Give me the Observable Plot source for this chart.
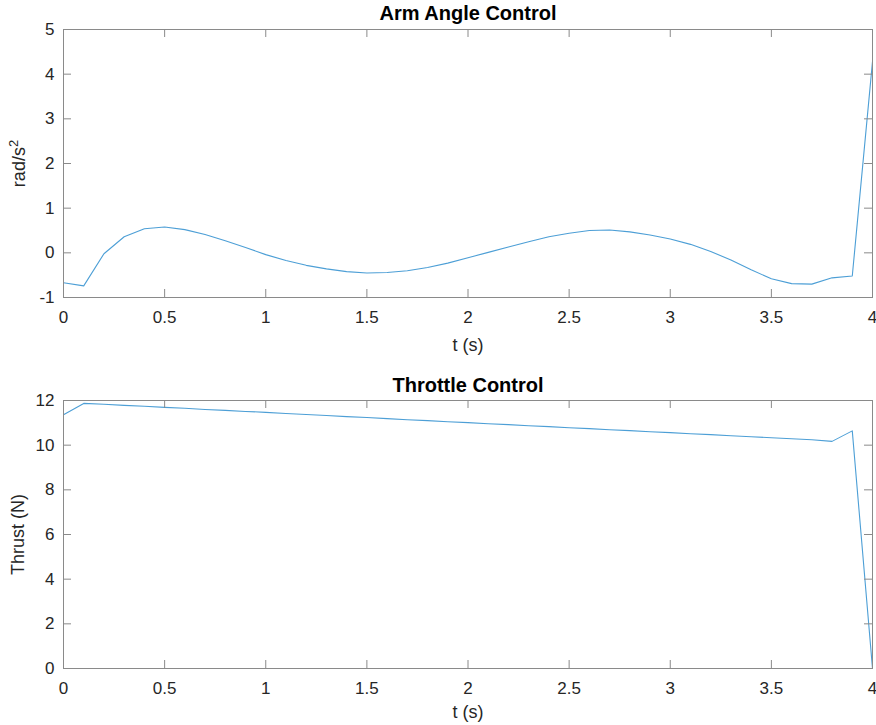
<!DOCTYPE html>
<html><head>
<meta charset="utf-8">
<script src="https://cdn.jsdelivr.net/npm/d3@7"></script>
<script src="https://cdn.jsdelivr.net/npm/@observablehq/plot@0.6"></script>
<style>
body{margin:0;background:#fff;font-family:"Liberation Sans",Arial,sans-serif}
#c svg{display:block}
</style>
</head><body><div id="c"></div>
<script>
const t = [0,0.1,0.2,0.3,0.4,0.5,0.6,0.7,0.8,0.9,1.0,1.1,1.2,1.3,1.4,1.5,1.6,1.7,1.8,1.9,2.0,
           2.1,2.2,2.3,2.4,2.5,2.6,2.7,2.8,2.9,3.0,3.1,3.2,3.3,3.4,3.5,3.6,3.7,3.8,3.9,4.0];
const armAngle = [-0.67,-0.74,-0.02,0.36,0.54,0.58,0.52,0.41,0.27,0.12,-0.04,-0.17,-0.28,-0.36,-0.42,-0.45,-0.44,-0.40,-0.33,-0.23,-0.11,
                  0.01,0.13,0.25,0.36,0.44,0.50,0.51,0.47,0.40,0.31,0.19,0.03,-0.16,-0.38,-0.58,-0.69,-0.70,-0.56,-0.52,4.28];
const thrust = [11.36,11.87,11.83,11.78,11.74,11.69,11.65,11.60,11.56,11.51,11.47,11.42,11.37,11.33,11.28,11.24,11.19,11.14,11.10,11.05,11.01,
                10.96,10.92,10.87,10.83,10.78,10.74,10.69,10.65,10.60,10.56,10.51,10.47,10.42,10.38,10.33,10.29,10.24,10.17,10.64,0];
const xTicks = [0,0.5,1,1.5,2,2.5,3,3.5,4];
const armTicks = [-1,0,1,2,3,4,5];
const thrustTicks = [0,2,4,6,8,10,12];

const W = 876;
const axisColor = "#8a8a8a";
const textColor = "#262626";
const lineColor = "#4d9fd6";

function chart({title, ylabel, values, yDomain, yTicks, height, marginTop, marginBottom, titleDy, xLabelDy, yLabelDx}) {
  const marginLeft = 63, marginRight = 4;
  const fw = W - marginLeft - marginRight;
  const fh = height - marginTop - marginBottom;
  const tk = 8;
  const data = t.map((x, i) => ({t: x, v: values[i]}));
  return Plot.plot({
    width: W, height, marginTop, marginBottom, marginLeft, marginRight,
    style: {fontFamily: '"Liberation Sans", Arial, sans-serif', color: textColor, background: "#fff"},
    x: {domain: [0, 4]},
    y: {domain: yDomain},
    marks: [
      Plot.line(data, {x: "t", y: "v", stroke: lineColor, strokeWidth: 1.1}),
      Plot.frame({stroke: axisColor, strokeWidth: 1}),
      Plot.tickX(xTicks, {x: d => d, stroke: axisColor, insetTop: fh - tk}),
      Plot.tickX(xTicks, {x: d => d, stroke: axisColor, insetBottom: fh - tk}),
      Plot.tickY(yTicks, {y: d => d, stroke: axisColor, insetRight: fw - tk}),
      Plot.tickY(yTicks, {y: d => d, stroke: axisColor, insetLeft: fw - tk}),
      Plot.axisX(xTicks, {anchor: "bottom", tickSize: 0, tickPadding: 13, fontSize: 17, label: null, tickFormat: d => String(d), fill: textColor}),
      Plot.axisY(yTicks, {anchor: "left", tickSize: 0, tickPadding: 9, fontSize: 17, label: null, tickFormat: d => String(d), fill: textColor}),
      Plot.text([title], {frameAnchor: "top", lineAnchor: "middle", dy: titleDy, fontSize: 20, fontWeight: "bold", fill: "#000"}),
      Plot.text(["t (s)"], {frameAnchor: "bottom", lineAnchor: "middle", dy: xLabelDy, fontSize: 18, fill: textColor}),
      Plot.text([ylabel], {frameAnchor: "left", lineAnchor: "middle", textAnchor: "middle", dx: yLabelDx, rotate: -90, fontSize: 18, fill: textColor})
    ]
  });
}

const c = document.getElementById("c");
c.append(chart({title: "Arm Angle Control", ylabel: "rad/s2", values: armAngle, yDomain: [-1, 5], yTicks: armTicks,
  height: 360, marginTop: 29, marginBottom: 63, titleDy: -16, xLabelDy: 48, yLabelDx: -44}));
c.append(chart({title: "Throttle Control", ylabel: "Thrust (N)", values: thrust, yDomain: [0, 12], yTicks: thrustTicks,
  height: 365, marginTop: 40, marginBottom: 57, titleDy: -15, xLabelDy: 44, yLabelDx: -45}));

// superscript for the unit label
c.querySelectorAll("text").forEach(el => {
  if (el.textContent === "rad/s2") {
    el.textContent = "rad/s";
    const sup = document.createElementNS("http://www.w3.org/2000/svg", "tspan");
    sup.setAttribute("font-size", "13");
    sup.setAttribute("dy", "-7");
    sup.textContent = "2";
    el.appendChild(sup);
  }
});
</script>
</body></html>
